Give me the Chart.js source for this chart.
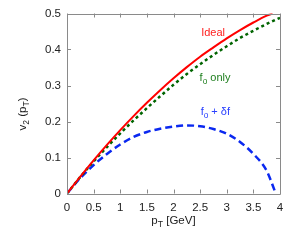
<!DOCTYPE html>
<html>
<head>
<meta charset="utf-8">
<script src="https://cdn.jsdelivr.net/npm/chart.js@4"></script>
<style>
html,body{margin:0;padding:0;background:#fff;}
#wrap{width:296px;height:240px;}
</style>
</head>
<body>
<div id="wrap"><canvas id="c" width="296" height="240"></canvas></div>
<script>
// ---- data ----
const ptIdeal = [0, 0.25, 0.5, 0.75, 1.0, 1.25, 1.5, 1.75, 2.0, 2.25, 2.5, 2.75, 3.0, 3.25, 3.5, 3.75, 3.86];
const v2Ideal = [0, 0.047, 0.092, 0.135, 0.176, 0.215, 0.252, 0.287, 0.320, 0.351, 0.380, 0.406, 0.431, 0.454, 0.475, 0.494, 0.500];

const ptF0 = [0, 0.25, 0.5, 0.75, 1.0, 1.25, 1.5, 1.75, 2.0, 2.25, 2.5, 2.75, 3.0, 3.25, 3.5, 3.75, 4.0];
const v2F0 = [0, 0.046, 0.089, 0.129, 0.167, 0.203, 0.237, 0.270, 0.302, 0.332, 0.359, 0.385, 0.409, 0.432, 0.452, 0.471, 0.488];

const ptDf = [0, 0.25, 0.5, 0.75, 1.0, 1.25, 1.5, 1.75, 2.0, 2.25, 2.5, 2.75, 3.0, 3.25, 3.5, 3.75, 3.92];
const v2Df = [0, 0.043, 0.079, 0.110, 0.136, 0.157, 0.171, 0.180, 0.186, 0.189, 0.187, 0.179, 0.166, 0.143, 0.110, 0.063, 0.0];

const xTicks = [0, 0.5, 1, 1.5, 2, 2.5, 3, 3.5, 4];
const yTicks = [0, 0.1, 0.2, 0.3, 0.4, 0.5];

const toPts = (xs, ys) => xs.map((x, i) => ({x: x, y: ys[i]}));

const FONT = '"Liberation Sans", Arial, Helvetica, sans-serif';

// label annotations (text in segments; sub = subscript)
const labels = [
  {x: 2.52, y: 0.438, color: '#ff2020', segs: [{t: 'Ideal'}]},
  {x: 2.49, y: 0.313, color: '#1f7f1f', segs: [{t: 'f'}, {t: 'o', sub: true}, {t: ' only'}]},
  {x: 2.51, y: 0.219, color: '#2a40ff', segs: [{t: 'f'}, {t: 'o', sub: true}, {t: ' + \u03b4f'}]}
];

function drawSegs(ctx, segs, x, y, size) {
  let cx = x;
  for (const s of segs) {
    const fs = s.sub ? size * 0.75 : size;
    ctx.font = fs + 'px ' + FONT;
    ctx.fillText(s.t, cx, s.sub ? y + size * 0.3 : y);
    cx += ctx.measureText(s.t).width;
  }
  return cx - x;
}
function segsWidth(ctx, segs, size) {
  let w = 0;
  for (const s of segs) {
    const fs = s.sub ? size * 0.75 : size;
    ctx.font = fs + 'px ' + FONT;
    w += ctx.measureText(s.t).width;
  }
  return w;
}

const framePlugin = {
  id: 'frame',
  afterDatasetsDraw(chart) {
    const ctx = chart.ctx;
    const a = chart.chartArea;
    const xs = chart.scales.x, ys = chart.scales.y;
    ctx.save();
    ctx.strokeStyle = '#8a8a8a';
    ctx.lineWidth = 1;
    ctx.beginPath();
    ctx.rect(Math.round(a.left) + 0.5, Math.round(a.top) + 0.5, Math.round(a.right - a.left), Math.round(a.bottom - a.top));
    ctx.stroke();
    const tl = 4;
    ctx.beginPath();
    for (const v of xTicks) {
      const px = Math.round(xs.getPixelForValue(v)) + 0.5;
      ctx.moveTo(px, a.bottom); ctx.lineTo(px, a.bottom - tl);
      ctx.moveTo(px, a.top); ctx.lineTo(px, a.top + tl);
    }
    for (const v of yTicks) {
      const py = Math.round(ys.getPixelForValue(v)) + 0.5;
      ctx.moveTo(a.left, py); ctx.lineTo(a.left + tl, py);
      ctx.moveTo(a.right, py); ctx.lineTo(a.right - tl, py);
    }
    ctx.stroke();

    // curve labels
    ctx.textBaseline = 'alphabetic';
    ctx.textAlign = 'left';
    for (const l of labels) {
      ctx.fillStyle = l.color;
      drawSegs(ctx, l.segs, xs.getPixelForValue(l.x), ys.getPixelForValue(l.y), 11);
    }

    // axis titles
    ctx.fillStyle = '#222';
    const xt = [{t: 'p'}, {t: 'T', sub: true}, {t: ' [GeV]'}];
    const xw = segsWidth(ctx, xt, 11.5);
    drawSegs(ctx, xt, (a.left + a.right) / 2 - xw / 2, 224, 11.5);

    const yt = [{t: 'v'}, {t: '2', sub: true}, {t: ' (p'}, {t: 'T', sub: true}, {t: ')'}];
    const yw = segsWidth(ctx, yt, 11.5);
    ctx.translate(26, 114);
    ctx.rotate(-Math.PI / 2);
    drawSegs(ctx, yt, -yw / 2, 0, 11.5);
    ctx.restore();
  }
};

new Chart(document.getElementById('c'), {
  type: 'scatter',
  data: {
    datasets: [
      {label: 'Ideal', data: toPts(ptIdeal, v2Ideal), showLine: true, borderColor: '#ff0000', borderWidth: 2, pointRadius: 0, cubicInterpolationMode: 'monotone', order: 1},
      {label: 'f0 only', data: toPts(ptF0, v2F0), showLine: true, borderColor: '#006400', borderWidth: 2.5, borderDash: [3, 3], pointRadius: 0, cubicInterpolationMode: 'monotone', order: 2},
      {label: 'f0 + df', data: toPts(ptDf, v2Df), showLine: true, borderColor: '#0a28f0', borderWidth: 2.5, borderDash: [7, 4], pointRadius: 0, cubicInterpolationMode: 'monotone', order: 3}
    ]
  },
  options: {
    responsive: false,
    animation: false,
    devicePixelRatio: 1,
    layout: {padding: {top: 13.5, right: 16, left: 0, bottom: 0}},
    plugins: {legend: {display: false}, tooltip: {enabled: false}},
    scales: {
      x: {
        type: 'linear', min: 0, max: 4,
        afterBuildTicks(s) { s.ticks = xTicks.map(v => ({value: v})); },
        afterFit(s) { s.height = 46.5; },
        grid: {display: false, drawTicks: false},
        border: {display: false},
        ticks: {
          color: '#222', padding: 7, maxRotation: 0, autoSkip: false,
          font: {family: FONT, size: 11.5},
          callback: v => String(v)
        }
      },
      y: {
        type: 'linear', min: 0, max: 0.5,
        afterBuildTicks(s) { s.ticks = yTicks.map(v => ({value: v})); },
        afterFit(s) { s.width = 67; },
        grid: {display: false, drawTicks: false},
        border: {display: false},
        ticks: {
          color: '#222', padding: 6, autoSkip: false,
          font: {family: FONT, size: 11.5},
          callback: v => String(v)
        }
      }
    }
  },
  plugins: [framePlugin]
});
</script>
</body>
</html>
